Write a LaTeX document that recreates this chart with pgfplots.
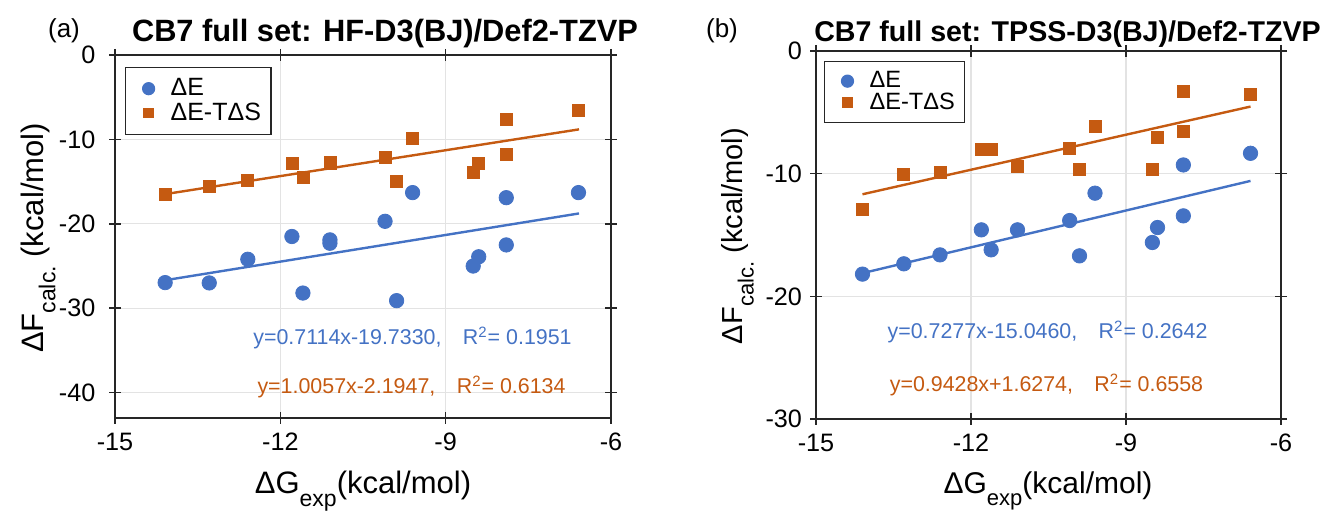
\documentclass[border=0pt]{standalone}
\usepackage{pgfplots}
\pgfplotsset{compat=1.18}
\usepackage{fontspec}
\setmainfont{Liberation Sans}
\definecolor{cblue}{RGB}{68,114,196}
\definecolor{corange}{RGB}{197,90,17}
\definecolor{axgray}{RGB}{38,38,38}
\pgfplotsset{
  myax/.style={
    scale only axis,
    xmin=-15, xmax=-6, xtick={-15,-12,-9,-6},
    grid=major, major grid style={draw=black!11, line width=0.6pt},
    axis line style={draw=axgray, line width=0.8pt},
    tick style={draw=axgray, line width=0.8pt},
    tick align=center, major tick length=6pt,
    /pgf/number format/assume math mode=true,
    ticklabel style={font=\fontsize{12.6}{14}\selectfont, text=black},
    xticklabel style={yshift=-1pt},
    legend cell align=left,
  },
  dE/.style={only marks, mark=*, mark size=3.6pt, color=cblue,
    mark options={draw=cblue, fill=cblue},
    legend image code/.code={\path[draw=none,fill=none] (0pt,0pt) -- (17.5pt,0pt);
      \draw[##1, mark size=3pt] plot coordinates {(8.5pt,0pt)};}},
  dS/.style={only marks, mark=square*, mark size=3pt, color=corange,
    mark options={draw=corange, fill=corange},
    legend image code/.code={\path[draw=none,fill=none] (0pt,0pt) -- (17.5pt,0pt);
      \draw[##1, mark size=2.4pt] plot coordinates {(8.5pt,0pt)};}},
  fitline/.style={line width=1.2pt, forget plot, no markers},
}
\begin{document}
\begin{tikzpicture}
\useasboundingbox (0pt,0pt) rectangle (667.5pt,-256pt);

% ---------- (a) ----------
\begin{axis}[myax, at={(57.5pt,-209pt)}, anchor=south west,
  width=248pt, height=181.5pt,
  ymin=-43, ymax=0, ytick={-40,-30,-20,-10,0},
  yticklabel style={xshift=-3.3pt},
  legend style={at={(0.0202,0.967)}, anchor=north west, draw=axgray,
    line width=0.6pt, font=\fontsize{12.5}{14}\selectfont,
    inner xsep=3pt, inner ysep=3.5pt, row sep=-2pt},
]
\addplot[cblue, fitline] coordinates {(-14.09,-26.68) (-6.58,-18.77)};
\addplot[corange, fitline] coordinates {(-14.09,-16.48) (-6.58,-8.81)};
\addplot[dE] coordinates {
 (-14.09,-26.96) (-13.29,-27.0) (-12.59,-24.2) (-11.79,-21.5) (-11.59,-28.2)
 (-11.10,-21.9) (-11.10,-22.3) (-10.10,-19.7) (-9.89,-29.1) (-9.60,-16.3)
 (-8.50,-25.0) (-8.40,-23.9) (-7.90,-16.9) (-7.90,-22.5) (-6.59,-16.3)};
\addlegendentry{ΔE}
\addplot[dS] coordinates {
 (-14.09,-16.5) (-13.29,-15.6) (-12.59,-14.9) (-11.79,-12.85) (-11.59,-14.5)
 (-11.10,-12.85) (-11.10,-12.7) (-10.10,-12.1) (-9.89,-15.0) (-9.60,-9.9)
 (-8.50,-13.95) (-8.40,-12.8) (-7.90,-7.6) (-7.90,-11.8) (-6.59,-6.6)};
\addlegendentry{ΔE-TΔS}
\end{axis}

% ---------- (b) ----------
\begin{axis}[myax, at={(408pt,-209.5pt)}, anchor=south west,
  width=232.5pt, height=184pt,
  ymin=-30, ymax=0, ytick={-30,-20,-10,0},
  yticklabel style={xshift=-0.5pt},
  legend style={at={(0.017,0.973)}, anchor=north west, draw=axgray,
    line width=0.6pt, font=\fontsize{11.8}{13}\selectfont,
    inner xsep=3pt, inner ysep=3pt, row sep=-3pt},
]
\addplot[cblue, fitline] coordinates {(-14.10,-18.11) (-6.59,-10.59)};
\addplot[corange, fitline] coordinates {(-14.10,-11.68) (-6.59,-4.53)};
\addplot[dE] coordinates {
 (-14.10,-18.19) (-13.30,-17.35) (-12.60,-16.62) (-11.80,-14.58) (-11.61,-16.21)
 (-11.10,-14.58) (-10.09,-13.82) (-9.90,-16.70) (-9.60,-11.59) (-8.49,-15.61)
 (-8.39,-14.39) (-7.89,-9.29) (-7.89,-13.44) (-6.59,-8.34)};
\addlegendentry{ΔE}
\addplot[dS] coordinates {
 (-14.10,-12.95) (-13.30,-10.10) (-12.60,-9.91) (-11.80,-8.06) (-11.61,-8.01)
 (-11.10,-9.42) (-10.09,-7.93) (-9.90,-9.69) (-9.60,-6.11) (-8.49,-9.64)
 (-8.39,-7.03) (-7.89,-3.31) (-7.89,-6.52) (-6.59,-3.50)};
\addlegendentry{ΔE-TΔS}
\end{axis}

% ---------- texts ----------
\node[font=\fontsize{13}{15}\selectfont] at (32pt,-15.5pt) {(a)};
\node[font=\fontsize{13}{15}\selectfont] at (361pt,-15.5pt) {(b)};
\node[font=\fontsize{15.4}{18}\selectfont\bfseries, anchor=base] at (192.5pt,-21pt) {CB7 full set: HF-D3(BJ)/Def2-TZVP};
\node[font=\fontsize{14.3}{17}\selectfont\bfseries, anchor=base] at (533.75pt,-21pt) {CB7 full set: TPSS-D3(BJ)/Def2-TZVP};

\node[font=\fontsize{15.5}{18}\selectfont, anchor=base] at (181.5pt,-247pt)
  {ΔG\raisebox{-0.4em}{\fontsize{11.5}{12}\selectfont exp}(kcal/mol)};
\node[font=\fontsize{15}{18}\selectfont, anchor=base] at (524pt,-247pt)
  {ΔG\raisebox{-0.4em}{\fontsize{11}{12}\selectfont exp}(kcal/mol)};
\node[font=\fontsize{15.5}{18}\selectfont, anchor=base, rotate=90] at (21.5pt,-119pt)
  {ΔF\raisebox{-0.4em}{\fontsize{11.5}{12}\selectfont calc.} (kcal/mol)};
\node[font=\fontsize{14.5}{18}\selectfont, anchor=base, rotate=90] at (371pt,-118pt)
  {ΔF\raisebox{-0.4em}{\fontsize{11}{12}\selectfont calc.} (kcal/mol)};

\node[font=\fontsize{10.7}{12}\selectfont, text=cblue] at (206.25pt,-169pt)
  {y=0.7114x-19.7330,\quad R\textsuperscript{2}= 0.1951};
\node[font=\fontsize{10.7}{12}\selectfont, text=corange] at (205.75pt,-193.5pt)
  {y=1.0057x-2.1947,\quad R\textsuperscript{2}= 0.6134};
\node[font=\fontsize{10.7}{12}\selectfont, text=cblue] at (523.75pt,-166pt)
  {y=0.7277x-15.0460,\quad R\textsuperscript{2}= 0.2642};
\node[font=\fontsize{10.7}{12}\selectfont, text=corange] at (523.25pt,-192.5pt)
  {y=0.9428x+1.6274,\quad R\textsuperscript{2}= 0.6558};
\end{tikzpicture}
\end{document}
